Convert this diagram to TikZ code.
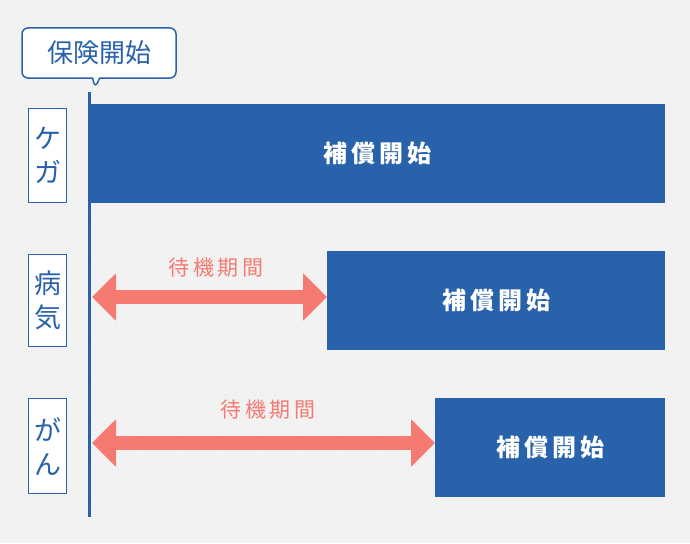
\documentclass[tikz,border=0pt]{standalone}
\usepackage{fontspec}
\setmainfont{Noto Sans CJK JP}
\usetikzlibrary{arrows.meta,shapes.callouts}
\definecolor{hoken}{HTML}{2862AA}
\definecolor{taiki}{HTML}{F47A72}
\definecolor{haikei}{HTML}{F2F2F2}
\begin{document}
\begin{tikzpicture}[x=1pt,y=-1pt,
    bar/.style={draw=none,fill=hoken,text=white,font=\bfseries\fontsize{24}{24}\selectfont,anchor=north west,inner sep=0pt},
    kind/.style={draw=hoken,fill=white,line width=1.2pt,text=hoken,font=\fontsize{27}{34}\selectfont,align=center,minimum width=38pt,anchor=north west,inner sep=0pt},
    wait/.style={taiki,line width=14pt,{Triangle[length=24pt,width=46pt]}-{Triangle[length=24pt,width=46pt]}},
    waitlabel/.style={text=taiki,font=\fontsize{21}{21}\selectfont}]
  \fill[haikei] (0,0) rectangle (690,543);
  \useasboundingbox (0,0) rectangle (690,543);
  % dotted background
  \foreach \i in {0,...,68}{\foreach \j in {0,...,53}{
    \fill[gray!25] (\i*10+5,\j*10+5) circle (0.7);}}
  % start line and callout
  \draw[hoken,line width=3pt] (89,92) -- (89,517);
  \node (start) [rectangle callout,rounded corners=6pt,draw=hoken,fill=white,line width=1.5pt,
    text=hoken,font=\fontsize{26}{26}\selectfont,minimum width=154pt,minimum height=50pt,
    callout absolute pointer={(95,88)}] at (99,53) {保険開始};
  % bars
  \node (bar1) [bar,minimum width=576pt,minimum height=99pt] at (89,104) {補\,償\,開\,始};
  \node (bar2) [bar,minimum width=338pt,minimum height=99pt] at (327,251) {補\,償\,開\,始};
  \node (bar3) [bar,minimum width=230pt,minimum height=99pt] at (435,398) {補\,償\,開\,始};
  % categories
  \node (kega) [kind,minimum height=94pt] at (28,108) {ケ\\ガ};
  \node (byoki) [kind,minimum height=92pt] at (28,254) {病\\気};
  \node (gan) [kind,minimum height=95pt] at (28,398) {が\\ん};
  % waiting periods
  \coordinate (w2) at (92,297);
  \coordinate (w3) at (92,443);
  \draw[wait] (w2) -- (bar2.west |- w2);
  \draw[wait] (w3) -- (bar3.west |- w3);
  \node (label2) [waitlabel] at (216,268) {待\,機\,期\,間};
  \node (label3) [waitlabel] at (268,410) {待\,機\,期\,間};
\end{tikzpicture}
\end{document}
